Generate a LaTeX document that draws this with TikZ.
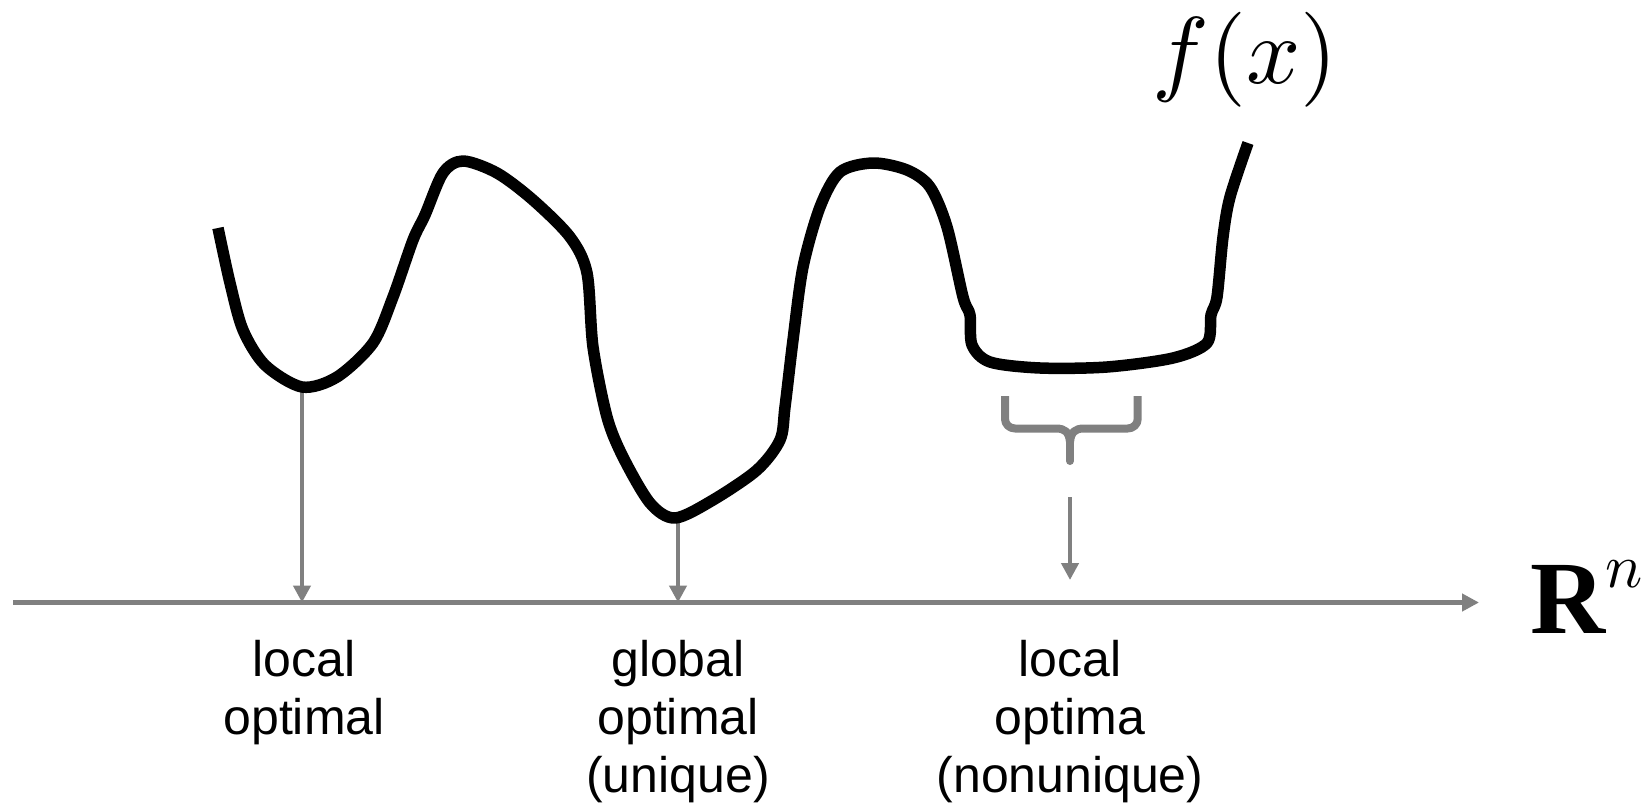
\documentclass[tikz,border=0pt]{standalone}
\usepackage{graphicx}
\usepackage{fontspec}
\setmainfont{Liberation Sans}
\newfontfamily\tnr{Liberation Serif}
\usetikzlibrary{arrows.meta}
\definecolor{axgray}{HTML}{808080}
\tikzset{
  curveline/.style={line width=11.5pt, black, line join=round},
  axisline/.style={line width=4.5pt, axgray, -{Triangle[length=17pt,width=17pt]}},
  droparrow/.style={line width=4.5pt, axgray, -{Triangle[length=17pt,width=17pt]}},
  braceline/.style={line width=8pt, axgray, line join=round},
  lbl/.style={align=center, inner sep=0pt, anchor=north, font=\fontsize{50}{58}\selectfont},
}
\begin{document}
\begin{tikzpicture}[x=1pt,y=-1pt]
\useasboundingbox[fill=white] (0,0) rectangle (1648,811);

% named points
\coordinate (axs) at (13,602.5);
\coordinate (axe) at (1479,602.5);
\coordinate (m1) at (302,390);
\coordinate (m1a) at (302,602.5);
\coordinate (m2) at (678,520);
\coordinate (m2a) at (678,602.5);
\coordinate (m3) at (1070,497);
\coordinate (m3a) at (1070,580);

% axis
\draw[axisline] (axs) -- (axe);

% drop arrows
\draw[droparrow] (m1) -- (m1a);
\draw[droparrow] (m2) -- (m2a);
\draw[droparrow] (m3) -- (m3a);

% brace
\draw[braceline] (1005,396) -- (1005,419) to[out=-90,in=180] (1015,428.5) -- (1056,428.5)
   .. controls (1065,428.5) and (1069,432) .. (1070,442);
\draw[braceline] (1137.7,396) -- (1137.7,419) to[out=-90,in=0] (1127.7,428.5) -- (1084,428.5)
   .. controls (1075,428.5) and (1071,432) .. (1070,442);
\draw[braceline, line cap=round] (1070,436) -- (1070,461);

% function curve
\draw[curveline] plot[smooth, tension=0.5] coordinates {
 (218,228) (230,283) (243,330) (265,365) (302,387) (337,377) (373,343) (393,297)
 (413,240) (425,215) (443,173) (463,161) (497,173) (533,200) (570,237) (587,273)
 (593,347) (607,417) (623,457) (650,503) (675,518) (713,500) (757,470) (780,440)
 (785,407) (793,340) (803,267) (820,207) (840,172) (873,163) (907,170) (930,187)
 (947,227) (963,297) (970,315) (972,345) (990,362) (1040,368) (1107,367) (1173,358)
 (1207,343) (1211,315) (1217,297) (1223,237) (1230,197) (1248,143)};

% labels
\node[lbl] (l1) at (304,640) {local\\optimal};
\node[lbl] (l2) at (678,640) {global\\optimal\\(unique)};
\node[lbl] (l3) at (1070,640) {local\\optima\\(nonunique)};

% f(x)
\node[inner sep=0pt, anchor=base] (fx) at (1245,83)
  {\scalebox{9.5}{$f(x)$}};

% R^n
\node[inner sep=0pt, anchor=base west] (rn) at (1530,633)
  {{\tnr\fontsize{104}{104}\selectfont\bfseries R}\raisebox{46pt}{\scalebox{6.2}{$n$}}};
\end{tikzpicture}
\end{document}
